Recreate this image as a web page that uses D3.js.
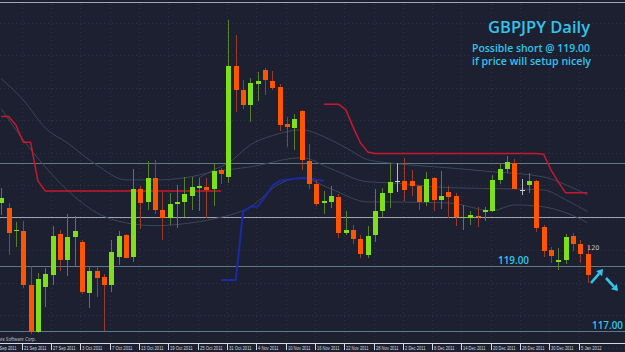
<!DOCTYPE html>
<html lang="en">
<head>
<meta charset="UTF-8" />
<title>GBPJPY Daily</title>
<script src="https://cdnjs.cloudflare.com/ajax/libs/d3/7.9.0/d3.min.js"></script>
<style>
  html, body { margin: 0; padding: 0; background: #1c2031; overflow: hidden; }
  svg { display: block; }
  .body-rect { shape-rendering: crispEdges; }
  .wick { stroke-width: 1; shape-rendering: crispEdges; }
  .level { stroke-width: 1; shape-rendering: crispEdges; }
  .band { fill: none; stroke: #3b4658; stroke-width: 1; }
  .note { fill: #33c4ea; font-family: "Open Sans", sans-serif; font-weight: 600; }
  .date-label { fill: #d6d8dc; font-family: "Liberation Sans", Arial, sans-serif; font-size: 4.8px; }
</style>
</head>
<body>
<svg id="chart" width="625" height="352"></svg>
<script>
/* --------------------- Data --------------------- */
// date axis labels, one every 4 daily bars
const tickLabels = ["15 Sep 2011", "21 Sep 2011", "27 Sep 2011", "3 Oct 2011", "7 Oct 2011",
  "13 Oct 2011", "19 Oct 2011", "25 Oct 2011", "31 Oct 2011", "4 Nov 2011", "10 Nov 2011",
  "16 Nov 2011", "22 Nov 2011", "28 Nov 2011", "2 Dec 2011", "8 Dec 2011", "14 Dec 2011",
  "20 Dec 2011", "26 Dec 2011", "30 Dec 2011", "5 Jan 2012"];

// daily bars 16 Sep 2011 .. 6 Jan 2012
const open = [120.94, 120.79, 120.08, 120.09, 118.43, 116.99, 118.35, 118.74, 120.00, 119.20,
  119.90, 119.74, 118.19, 118.87, 118.67, 118.41, 119.30, 119.97, 119.30, 121.38,
  120.98, 121.71, 120.72, 120.48, 120.91, 120.99, 121.15, 121.42, 121.45, 121.38,
  121.95, 121.76, 125.15, 124.43, 123.95, 124.62, 125.05, 124.71, 124.51, 123.38,
  123.27, 123.78, 122.25, 121.54, 120.96, 120.99, 121.12, 120.04, 120.12, 119.85,
  119.35, 119.97, 120.69, 121.27, 121.61, 121.61, 121.63, 121.48, 120.99, 121.71,
  121.05, 121.30, 121.15, 120.50, 120.50, 120.54, 120.66, 120.69, 121.66, 122.00,
  122.19, 121.35, 121.49, 121.64, 120.22, 119.49, 119.13, 119.18, 119.92, 119.68,
  119.38];
const high = [121.42, 120.96, 120.35, 120.40, 119.02, 118.79, 118.96, 120.25, 120.12, 120.62,
  120.56, 119.82, 118.99, 118.99, 118.76, 119.82, 120.10, 120.00, 122.00, 121.46,
  122.25, 122.28, 121.30, 121.25, 121.51, 121.74, 121.76, 121.71, 121.72, 122.19,
  122.04, 126.58, 126.12, 124.74, 124.79, 124.98, 125.10, 125.02, 124.61, 123.58,
  123.69, 123.82, 122.76, 121.66, 121.32, 121.46, 121.23, 120.71, 120.28, 119.97,
  120.25, 121.38, 121.41, 122.18, 122.18, 122.33, 121.97, 121.51, 121.89, 121.76,
  121.92, 121.46, 121.25, 120.89, 120.69, 120.84, 120.84, 121.82, 122.19, 122.40,
  122.30, 121.68, 121.87, 121.66, 120.28, 119.59, 119.56, 119.99, 120.04, 119.82,
  119.61];
const low = [120.58, 119.35, 119.59, 118.33, 116.91, 116.96, 117.76, 118.43, 118.87, 118.69,
  119.02, 118.15, 117.73, 118.05, 117.02, 118.22, 119.05, 119.26, 119.13, 120.14,
  120.74, 120.61, 119.82, 120.28, 120.18, 120.53, 120.74, 120.69, 120.48, 120.87,
  121.53, 121.56, 123.76, 123.84, 123.44, 124.09, 124.28, 124.43, 123.17, 122.66,
  122.58, 121.97, 121.38, 120.86, 120.61, 120.79, 119.87, 119.97, 119.68, 119.27,
  119.25, 119.76, 120.53, 120.79, 121.30, 121.02, 121.15, 120.72, 120.86, 120.69,
  120.76, 120.48, 120.25, 120.12, 120.28, 120.21, 120.38, 120.66, 121.53, 121.87,
  121.38, 121.20, 121.25, 120.07, 119.28, 119.10, 118.89, 119.08, 119.46, 119.10,
  118.48];
const close = [121.10, 120.02, 120.11, 118.41, 116.98, 118.62, 118.76, 119.92, 119.20, 119.89,
  120.09, 118.21, 118.86, 118.64, 118.41, 119.44, 119.94, 119.27, 121.38, 120.96,
  121.71, 120.72, 120.48, 120.91, 120.99, 121.23, 121.44, 121.48, 121.36, 121.94,
  121.84, 125.15, 124.41, 123.95, 124.64, 124.69, 124.74, 124.50, 123.35, 123.28,
  123.52, 122.26, 121.54, 120.92, 121.02, 121.15, 120.04, 120.12, 119.84, 119.38,
  119.94, 120.71, 121.27, 121.59, 121.61, 121.35, 121.48, 120.99, 121.68, 121.05,
  121.15, 121.14, 120.51, 120.53, 120.58, 120.51, 120.72, 121.66, 122.00, 122.21,
  121.38, 121.35, 121.64, 120.18, 119.46, 119.32, 119.20, 119.90, 119.69, 119.38,
  118.74];

// trailing stop lines (null where the line is not drawn)
const stopDown = [123.61, 123.61, 123.35, 122.82, 122.82, 121.63, 121.32, 121.32, 121.32, 121.32,
  121.32, 121.32, 121.32, 121.32, 121.32, 121.32, 121.32, 121.32, 121.32, 121.32,
  121.32, 121.32, 121.32, 121.32, 121.32, 121.32, 121.32, 121.32, 121.32, 121.32,
  121.32, null, null, null, null, null, null, null, null, null,
  null, null, null, null, 123.99, 123.99, 123.99, 123.82, 123.29, 122.80,
  122.52, 122.47, 122.47, 122.47, 122.47, 122.47, 122.47, 122.47, 122.47, 122.47,
  122.47, 122.47, 122.47, 122.47, 122.47, 122.47, 122.47, 122.47, 122.47, 122.47,
  122.47, 122.47, 122.47, 122.47, 122.45, 121.97, 121.60, 121.26, 121.26, 121.26,
  121.26];
const stopUp = [null, null, null, null, null, null, null, null, null, null,
  null, null, null, null, null, null, null, null, null, null,
  null, null, null, null, null, null, null, null, null, null,
  118.58, 118.58, 118.58, 120.68, 120.83, 120.84, 121.14, 121.48, 121.63, 121.66,
  121.69, 121.71, 121.71, 121.66, 121.63];

// faint envelope lines: bar index + price
const midBars = [0, 3, 6, 9, 13, 17, 21, 25, 29, 34, 41, 45, 50, 53, 61, 70, 74, 77, 80];
const midLine = [124.77, 124.12, 123.26, 122.80, 122.12, 121.66, 121.66, 121.72, 121.91, 122.06,
  122.34, 122.00, 121.60, 121.57, 121.42, 121.38, 121.35, 121.05, 120.68];
const lowerBars = [0, 3, 6, 9, 13, 17, 21, 25, 29, 34, 38, 41, 45, 50, 53, 61, 67, 70, 74, 77, 80];
const lowerLine = [123.85, 122.89, 122.06, 121.35, 120.65, 120.34, 120.25, 120.31, 120.46, 120.83,
  121.54, 121.72, 121.38, 120.98, 120.98, 120.95, 120.71, 120.89, 120.83, 120.65, 120.34];
const upperBars = [27, 29, 31, 34, 37, 41, 44, 47, 50, 53, 61, 67, 74, 77, 80];
const upperLine = [121.72, 121.97, 122.18, 122.74, 123.02, 123.20, 122.99, 122.65, 122.28, 122.18,
  122.03, 121.91, 121.75, 121.51, 121.20];

// horizontal levels
const levels = [122.18, 120.51, 119.00, 117.00];
const levelColors = ["#5d7b82", "#9ea4ac", "#5d7b82", "#5d7b82"];

/* --------------------- Setup --------------------- */
const W = 625, H = 352;
const svg = d3.select("#chart");

const dayKey = d3.timeFormat("%Y-%m-%d");
const parseLabel = d3.timeParse("%d %b %Y");
const days = d3.timeDay
  .range(new Date(2011, 8, 15), new Date(2012, 0, 7))
  .filter((d) => d.getDay() !== 0 && d.getDay() !== 6);
const keys = days.map(dayKey);

const x = d3.scalePoint().domain(keys).range([-6.1, 587.6]);
const y = d3.scaleLinear().domain([117, 119]).range([331.3, 266.3]);

const bars = open.map((o, i) => ({
  key: keys[i + 1], o, h: high[i], l: low[i], c: close[i],
}));

/* --------------------- Background + grid --------------------- */
svg.append("rect").attr("width", W).attr("height", H).attr("fill", "#1c2031");

const grid = svg.append("g").attr("stroke", "#2b3246").attr("stroke-dasharray", "1,3");
grid.selectAll("line.v")
  .data(tickLabels)
  .join("line")
  .attr("x1", (d) => Math.round(x(dayKey(parseLabel(d))) - 1.5) + 0.5)
  .attr("x2", (d) => Math.round(x(dayKey(parseLabel(d))) - 1.5) + 0.5)
  .attr("y1", 4).attr("y2", 343);
grid.selectAll("line.h")
  .data(d3.range(116.5, 127.5, 1))
  .join("line")
  .attr("x1", 0).attr("x2", W)
  .attr("y1", (d) => Math.round(y(d)) + 0.5)
  .attr("y2", (d) => Math.round(y(d)) + 0.5);

// top frame line
svg.append("line")
  .attr("x1", 0).attr("x2", W).attr("y1", 2.5).attr("y2", 2.5)
  .attr("stroke", "#a3a8b0").attr("stroke-width", 1);

/* --------------------- Levels --------------------- */
svg.append("g").selectAll("line")
  .data(levels)
  .join("line")
  .attr("class", "level")
  .attr("x1", 0).attr("x2", W)
  .attr("y1", (d) => Math.round(y(d)) + 0.5)
  .attr("y2", (d) => Math.round(y(d)) + 0.5)
  .attr("stroke", (d, i) => levelColors[i]);

/* --------------------- Envelope lines --------------------- */
const bandLine = d3.line()
  .x((d) => x(keys[d[0] + 1]))
  .y((d) => y(d[1]))
  .curve(d3.curveMonotoneX);
[[midBars, midLine], [lowerBars, lowerLine], [upperBars, upperLine]].forEach(([idx, vals]) => {
  svg.append("path")
    .attr("class", "band")
    .attr("d", bandLine(idx.map((b, i) => [b, vals[i]])));
});

/* --------------------- Trailing stops --------------------- */
const stopLine = d3.line()
  .defined((d) => d != null)
  .x((d, i) => x(keys[i + 1]))
  .y((d) => y(d));
svg.append("path")
  .attr("d", stopLine(stopDown))
  .attr("fill", "none").attr("stroke", "#c8182c").attr("stroke-width", 1.5)
  .attr("stroke-linejoin", "round");
svg.append("path")
  .attr("d", stopLine(stopUp))
  .attr("fill", "none").attr("stroke", "#1b2aa6").attr("stroke-width", 2)
  .attr("stroke-linejoin", "round");

/* --------------------- Candles --------------------- */
const colorOf = (d) => (d.c > d.o ? "#7fe01a" : d.c < d.o ? "#ff5500" : "#cfd2d6");
const wickOf = (d) => (d.c > d.o ? "#55802c" : d.c < d.o ? "#9a3c2a" : "#b8bcc2");

const candle = svg.append("g").selectAll("g")
  .data(bars)
  .join("g");
candle.append("line")
  .attr("class", "wick")
  .attr("x1", (d) => Math.round(x(d.key)) + 0.5)
  .attr("x2", (d) => Math.round(x(d.key)) + 0.5)
  .attr("y1", (d) => y(d.h))
  .attr("y2", (d) => y(d.l))
  .attr("stroke", wickOf);
candle.append("rect")
  .attr("class", "body-rect")
  .attr("x", (d) => Math.round(x(d.key)) - 2)
  .attr("width", 5)
  .attr("y", (d) => y(Math.max(d.o, d.c)))
  .attr("height", (d) => Math.max(1, Math.abs(y(d.o) - y(d.c))))
  .attr("fill", colorOf);

/* --------------------- Annotations --------------------- */
svg.append("text").attr("class", "note")
  .attr("x", 590).attr("y", 33).attr("text-anchor", "end")
  .attr("font-size", 16).attr("textLength", 102).attr("lengthAdjust", "spacingAndGlyphs")
  .text("GBPJPY Daily");
svg.append("text").attr("class", "note")
  .attr("x", 590).attr("y", 52).attr("text-anchor", "end")
  .attr("font-size", 10.5).attr("textLength", 118).attr("lengthAdjust", "spacingAndGlyphs")
  .text("Possible short @ 119.00");
svg.append("text").attr("class", "note")
  .attr("x", 591).attr("y", 64.5).attr("text-anchor", "end")
  .attr("font-size", 10.5).attr("textLength", 119).attr("lengthAdjust", "spacingAndGlyphs")
  .text("if price will setup nicely");

svg.append("text").attr("class", "note")
  .attr("x", 498).attr("y", y(119) - 2).attr("font-size", 10.5).attr("font-weight", 500)
  .attr("textLength", 31).attr("lengthAdjust", "spacingAndGlyphs")
  .text("119.00");
svg.append("text").attr("class", "note")
  .attr("x", 592).attr("y", y(117) - 2.5).attr("font-size", 10.5).attr("font-weight", 500)
  .attr("textLength", 31).attr("lengthAdjust", "spacingAndGlyphs")
  .text("117.00");

svg.append("text")
  .attr("x", 587).attr("y", 250)
  .attr("font-family", "DejaVu Sans, sans-serif").attr("font-size", 6.5)
  .attr("fill", "#c2c6cc")
  .text("120");

// arrows (up then down)
const arrowColor = "#33c4ea";
function arrow(x1, y1, x2, y2) {
  const a = Math.atan2(y2 - y1, x2 - x1);
  const hl = 6, hw = 4;
  const bx = x2 - hl * Math.cos(a), by = y2 - hl * Math.sin(a);
  svg.append("line")
    .attr("x1", x1).attr("y1", y1).attr("x2", bx).attr("y2", by)
    .attr("stroke", arrowColor).attr("stroke-width", 2.6);
  svg.append("path")
    .attr("d", `M${x2},${y2}L${bx + hw * Math.sin(a)},${by - hw * Math.cos(a)}L${bx - hw * Math.sin(a)},${by + hw * Math.cos(a)}Z`)
    .attr("fill", arrowColor);
}
arrow(591, 283, 603, 269);
arrow(606, 278, 618, 291);

/* --------------------- Date axis --------------------- */
svg.append("line")
  .attr("x1", 0).attr("x2", W).attr("y1", 343.5).attr("y2", 343.5)
  .attr("stroke", "#d8dadd").attr("stroke-width", 1);

const ticks = svg.append("g").selectAll("g")
  .data(tickLabels)
  .join("g")
  .attr("transform", (d) => `translate(${Math.round(x(dayKey(parseLabel(d))) - 1.5) + 0.5},0)`);
ticks.append("line")
  .attr("y1", 344).attr("y2", 350)
  .attr("stroke", "#d8dadd");
ticks.append("text")
  .attr("class", "date-label")
  .attr("x", 1.5).attr("y", 350)
  .attr("textLength", (d) => d.length * 2.05)
  .attr("lengthAdjust", "spacingAndGlyphs")
  .text((d) => d);

svg.append("text")
  .attr("x", -20).attr("y", 341)
  .attr("font-family", "DejaVu Sans, sans-serif").attr("font-size", 5.5)
  .attr("font-style", "italic")
  .attr("fill", "#c4c7cc")
  .attr("textLength", 56).attr("lengthAdjust", "spacingAndGlyphs")
  .text("MetaQuotes Software Corp.");
</script>
</body>
</html>
